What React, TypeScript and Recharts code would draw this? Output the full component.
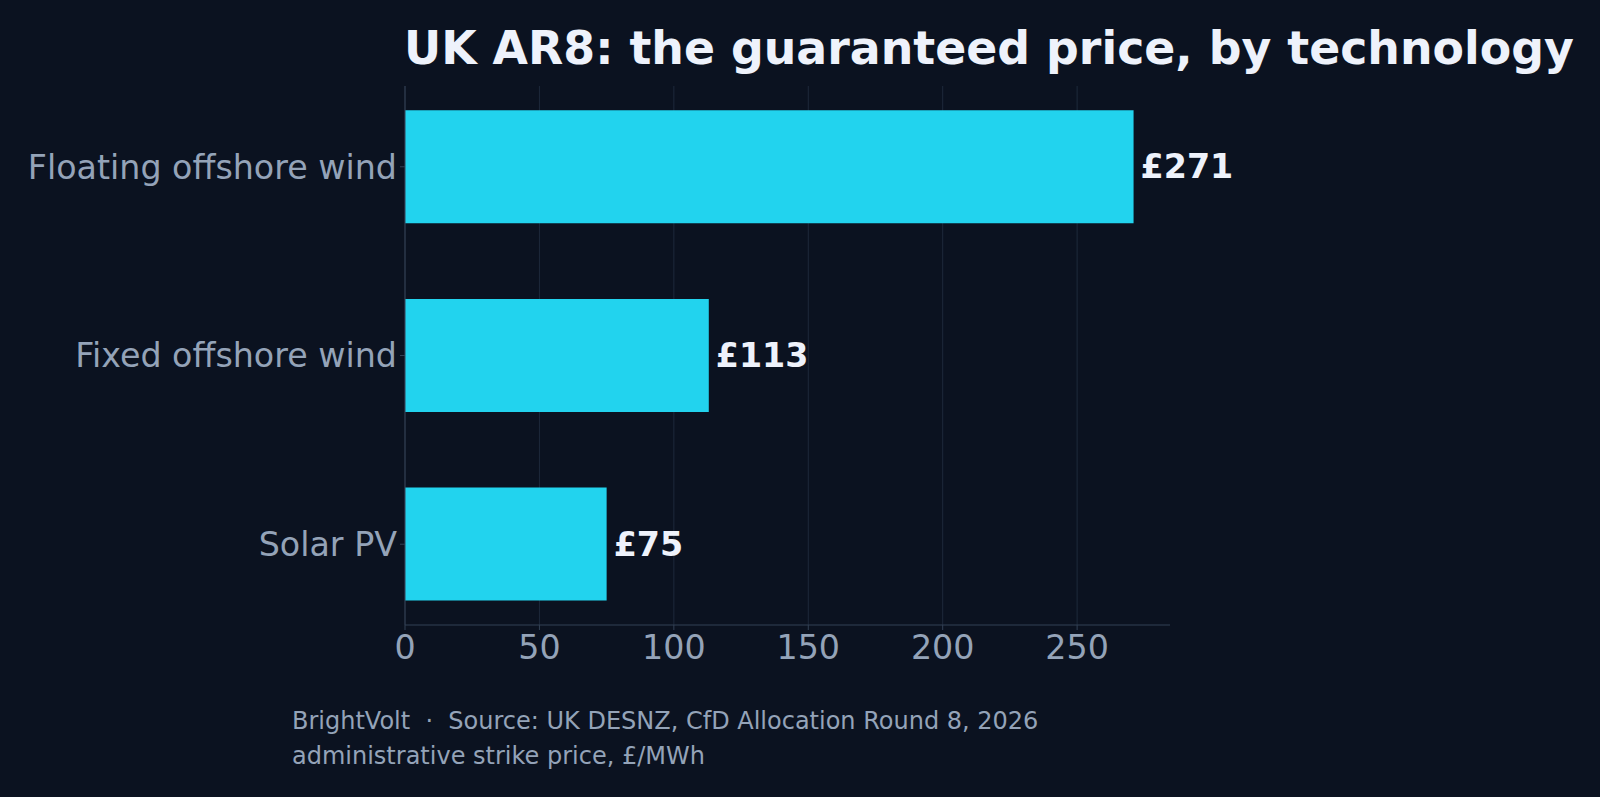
import { BarChart, Bar, XAxis, YAxis, CartesianGrid, LabelList } from 'recharts';

const technologies = ['Floating offshore wind', 'Fixed offshore wind', 'Solar PV'];
const strikePrices = [271, 113, 75];
const priceTicks = [0, 50, 100, 150, 200, 250];

const chartData = technologies.map((name, i) => ({ name, price: strikePrices[i] }));

const BG = '#0b1220';
const BAR = '#22d3ee';
const MUTED = '#94a3b8';
const BRIGHT = '#eef2fb';
const GRID = '#1e293b';
const SPINE = '#334155';
const FONT = '"DejaVu Sans", sans-serif';

export default function App() {
  return (
    <div
      style={{
        position: 'fixed',
        left: 0,
        top: 0,
        width: 1600,
        height: 797,
        background: BG,
        fontFamily: FONT,
      }}
    >
      <BarChart
        width={1600}
        height={797}
        data={chartData}
        layout="vertical"
        margin={{ top: 86, right: 430, bottom: 122, left: 0 }}
        barCategoryGap="20%"
      >
        <CartesianGrid horizontal={false} verticalValues={priceTicks} stroke={GRID} strokeWidth={1} />
        <XAxis
          type="number"
          domain={[0, 284.55]}
          ticks={priceTicks}
          allowDataOverflow
          height={50}
          stroke={SPINE}
          tickSize={5}
          tickMargin={5}
          tick={{ fill: MUTED, fontSize: 33.3, fontFamily: FONT }}
        />
        <YAxis
          type="category"
          dataKey="name"
          width={405}
          stroke={SPINE}
          tickSize={5}
          tickMargin={3}
          padding={{ top: -13.6, bottom: -13.6 }}
          tick={{ fill: MUTED, fontSize: 33.3, fontFamily: FONT }}
        />
        <Bar dataKey="price" fill={BAR} isAnimationActive={false}>
          <LabelList
            dataKey="price"
            position="right"
            offset={7}
            formatter={(v: number) => `£${v}`}
            fill={BRIGHT}
            fontSize={33.3}
            fontWeight="bold"
            fontFamily={FONT}
          />
        </Bar>
      </BarChart>
      <svg
        width={1600}
        height={797}
        style={{ position: 'absolute', left: 0, top: 0, pointerEvents: 'none' }}
      >
        <text x={404} y={64} fill={BRIGHT} fontSize={45.8} fontWeight="bold" fontFamily={FONT}>
          UK AR8: the guaranteed price, by technology
        </text>
        <text x={292} y={728.5} fill={MUTED} fontSize={24} fontFamily={FONT}>
          {'BrightVolt\u00a0\u00a0·\u00a0\u00a0Source: UK DESNZ, CfD Allocation Round 8, 2026'}
        </text>
        <text x={292} y={763.5} fill={MUTED} fontSize={24} fontFamily={FONT}>
          administrative strike price, £/MWh
        </text>
      </svg>
    </div>
  );
}
